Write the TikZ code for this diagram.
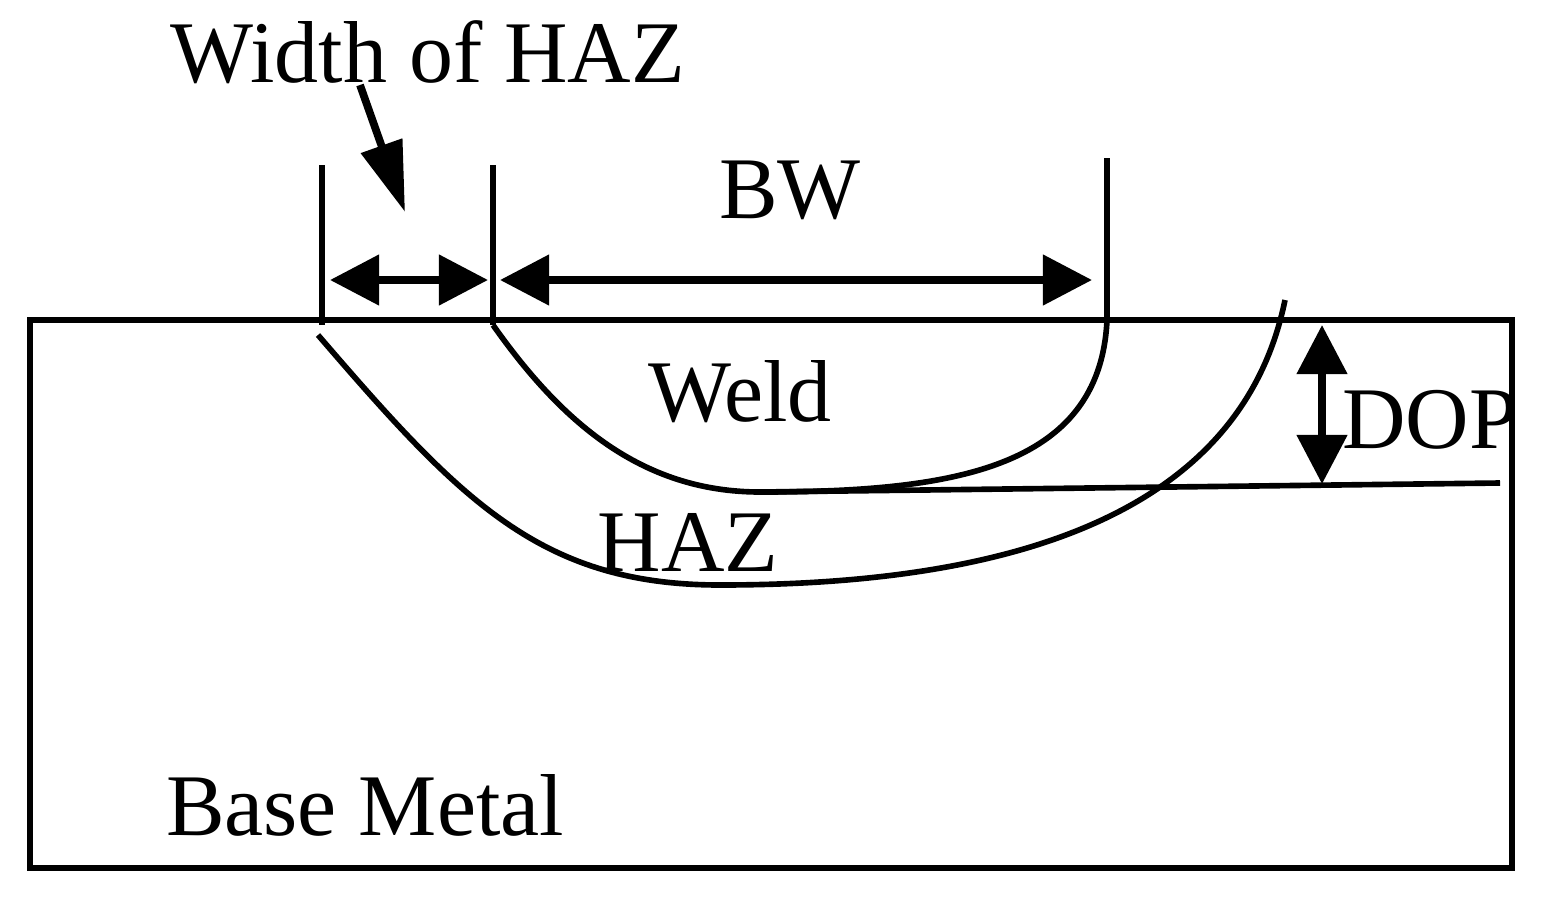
\documentclass[tikz,border=0pt]{standalone}
\usepackage{fontspec}
\setmainfont{Liberation Serif}
\usetikzlibrary{arrows.meta}
\begin{document}
\begin{tikzpicture}[x=0.01cm,y=-0.01cm,
  ln/.style={line width=1.6pt},
  lbl/.style={font=\fontsize{25}{28}\selectfont,inner sep=0},
  dim/.style={line width=2.2pt,{Triangle[length=14pt,width=14pt]}-{Triangle[length=14pt,width=14pt]}}]
\useasboundingbox (0,0) rectangle (1555,897);
\draw[ln] (30,320) rectangle (1512,868);
\coordinate (a1) at (322,165); \coordinate (a2) at (322,325);
\coordinate (b1) at (493,165); \coordinate (b2) at (493,325);
\coordinate (c1) at (1107,158); \coordinate (c2) at (1107,320);
\draw[ln] (a1)--(a2); \draw[ln] (b1)--(b2); \draw[ln] (c1)--(c2);
\coordinate (h1) at (330,280); \coordinate (h2) at (488,280);
\coordinate (w1) at (500,280); \coordinate (w2) at (1092,280);
\draw[dim] (h1)--(h2);
\draw[dim] (w1)--(w2);
% weld
\draw[ln] (b2) .. controls (560,420) and (640,492) .. (760,492)
  .. controls (950,492) and (1100,470) .. (c2);
\coordinate (e1) at (760,492); \coordinate (e2) at (1500,483);
\draw[ln] (e1)--(e2);
% HAZ
\draw[ln] (318,335) .. controls (460,500) and (540,585) .. (720,585)
  .. controls (1000,585) and (1240,520) .. (1285,300);
% DOP
\coordinate (d1) at (1322,325); \coordinate (d2) at (1322,484);
\draw[dim] (d1)--(d2);
% label arrow
\coordinate (p1) at (360,85); \coordinate (p2) at (405,212);
\draw[line width=2.2pt,-{Triangle[length=20pt,width=12pt]}] (p1)--(p2);
\node[lbl] (t1) at (428,52) {Width of HAZ};
\node[lbl] (t2) at (790,190) {BW};
\node[lbl] (t3) at (740,392) {Weld};
\node[lbl] (t4) at (688,542) {HAZ};
\node[lbl] (t5) at (1430,420) {DOP};
\node[lbl] (t6) at (365,805) {Base Metal};
\end{tikzpicture}
\end{document}
